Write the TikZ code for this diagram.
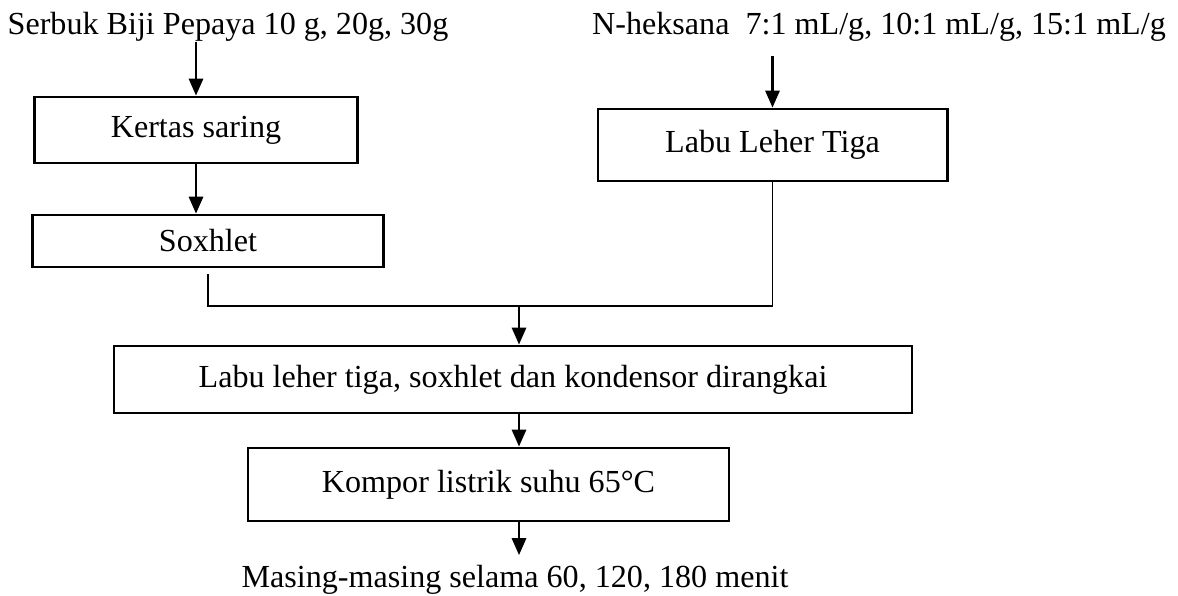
\documentclass[tikz,border=0pt]{standalone}
\usepackage{fontspec}
\setmainfont{Liberation Serif}
\usetikzlibrary{arrows.meta,positioning}
\tikzset{
    mybox/.style={
    draw,
    line width=1.1pt,
    inner sep=0pt,
    font=\fontsize{12.3}{14}\selectfont
  },
    mytext/.style={
    inner sep=0pt,
    anchor=base,
    font=\fontsize{12.3}{14}\selectfont
  },
    myarrow/.style={
    -{Triangle[width=5.5pt,length=6.5pt]},
    line width=0.8pt
  }
}

\begin{document}
\begin{tikzpicture}[x=0.383pt, y=-0.383pt]
  \useasboundingbox (0,0) rectangle (1178,595);
  \node[mytext] (n_1) at (228,35) {Serbuk Biji Pepaya 10 g, 20g, 30g};
  \node[mytext] (n_5) at (879,35) {N-heksana\ \ 7:1 mL/g, 10:1 mL/g, 15:1 mL/g};
  \node[mybox,minimum width=123.7pt,minimum height=25.3pt] (n_2) at (196,130) {Kertas saring};
  \node[mybox,minimum width=134.1pt,minimum height=19.9pt] (n_3) at (208,241) {Soxhlet};
  \node[mybox,minimum width=133.7pt,minimum height=27.6pt] (n_4) at (772.5,145) {Labu Leher Tiga};
  \node[mybox,minimum width=305.6pt,minimum height=25.7pt] (n_6) at (513,379.5) {Labu leher tiga, soxhlet dan kondensor dirangkai};
  \node[mybox,minimum width=184.2pt,minimum height=28pt] (n_7) at (488.5,484.5) {Kompor listrik suhu 65°C};
  \node[mytext] (n_8) at (515,587) {Masing-masing selama 60, 120, 180 menit};
  \coordinate (j) at (519,306);

  \draw[myarrow] (n_1.south -| n_2.north) -- (n_2.north);
  \draw[myarrow] (n_2.south) -- (n_2.south |- n_3.north);
  \draw[myarrow, shorten <=5pt] (n_5.south -| n_4.north) -- (n_4.north);
  \draw[line width=0.5pt] ([yshift=-2.3pt]n_3.south) |- (j) -| (n_4.south);
  \draw[myarrow] (j) -- (j |- n_6.north);
  \draw[myarrow] (n_6.south -| j) -- (j |- n_7.north);
  \draw[myarrow] (n_7.south -| j) -- ([yshift=3.5pt]j |- n_8.north);
\end{tikzpicture}
\end{document}
